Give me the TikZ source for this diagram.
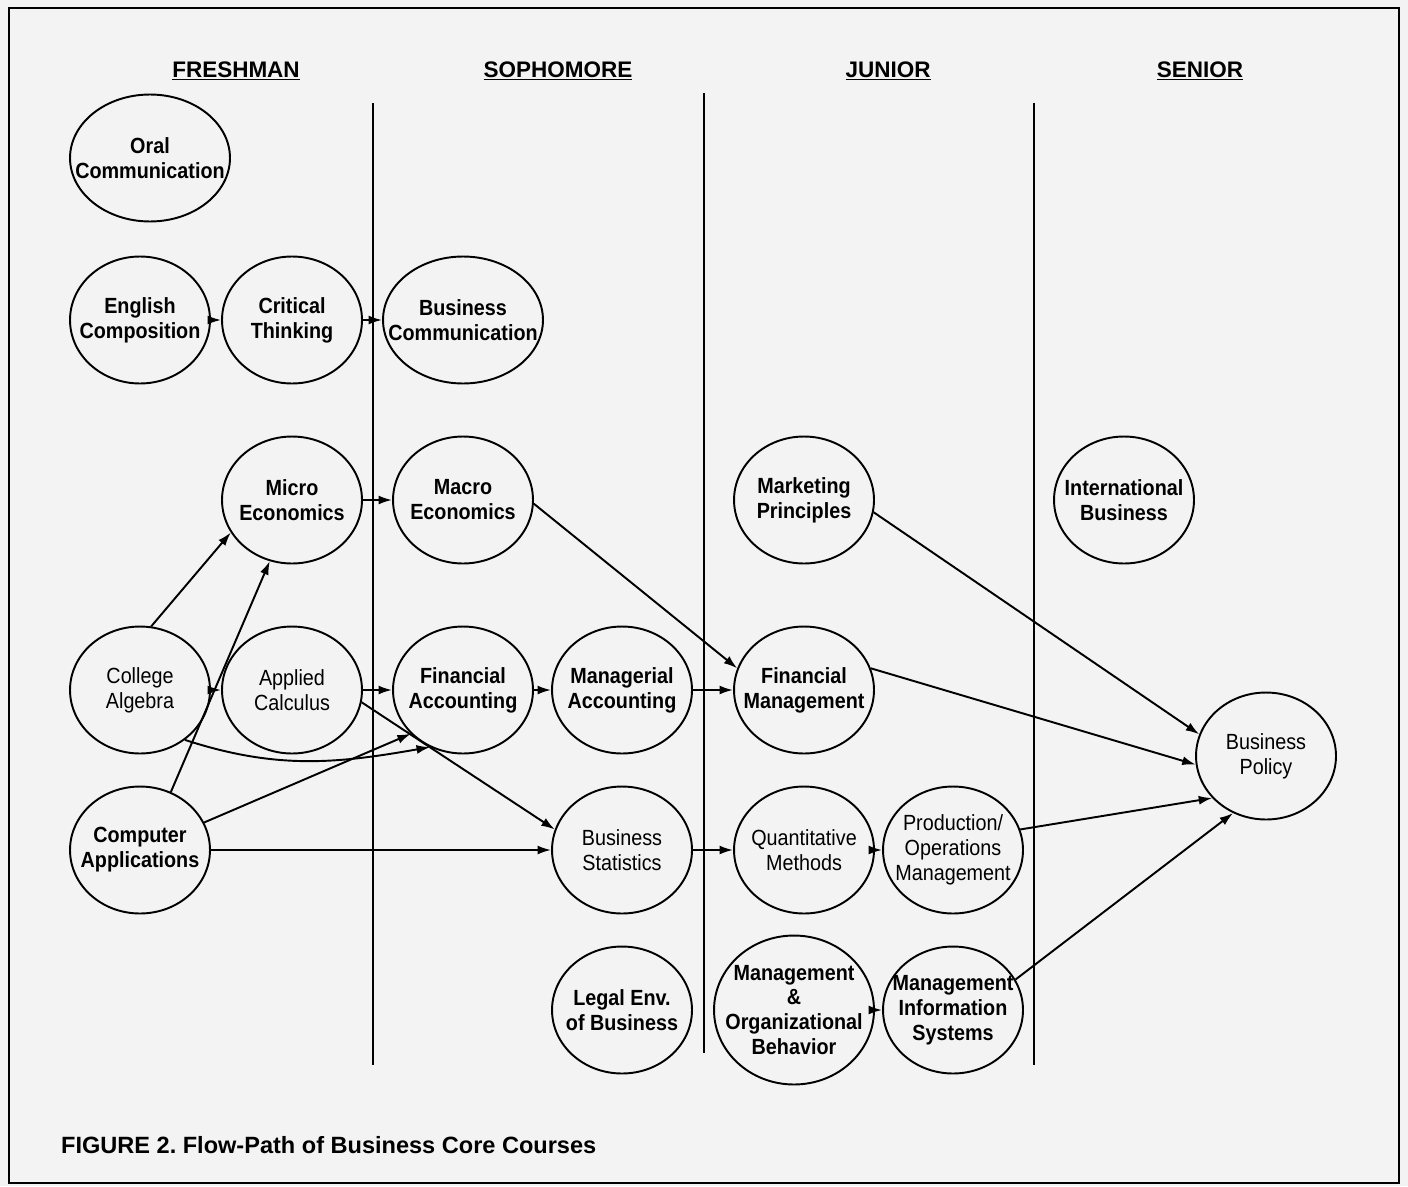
\documentclass[tikz,border=0pt]{standalone}
\usepackage{fontspec}
\setmainfont{Liberation Sans}
\newfontfamily\coursefont[FakeStretch=0.9]{Liberation Sans}
\usetikzlibrary{arrows.meta, positioning, shapes.geometric}
\usepackage{xcolor}
\definecolor{paper}{RGB}{243,243,243}
\frenchspacing

\begin{document}
\begin{tikzpicture}[x=0.02cm, y=-0.02cm,
    course/.style={draw, ellipse, line width=1.1pt, align=center, inner xsep=-0.6cm, inner ysep=0pt,
      minimum width=2.8cm, minimum height=2.54cm, font=\coursefont\fontsize{12.5}{14.2}\selectfont\bfseries},
    wide/.style={minimum width=3.2cm},
    light/.style={font=\coursefont\fontsize{12.5}{14.2}\selectfont},
    year/.style={anchor=base, font=\fontsize{12.8}{15}\selectfont\bfseries},
    divider/.style={line width=1.1pt},
    flow/.style={draw, line width=1.1pt, -{Latex[length=2.7mm, width=1.8mm]}}]
    \useasboundingbox (0,0) rectangle (1408,1186);
    \path[fill=paper] (0,0) rectangle (1408,1186);
    \draw[line width=1.4pt] (9,8) rectangle (1399,1183);

    \node[year] (fresh) at (236,77) {\underline{FRESHMAN}};
    \node[year] (soph) at (558,77) {\underline{SOPHOMORE}};
    \node[year] (junior) at (888,77) {\underline{JUNIOR}};
    \node[year] (senior) at (1200,77) {\underline{SENIOR}};

    \draw[divider] (373,103) -- (373,1065);
    \draw[divider] (704,93) -- (704,1053);
    \draw[divider] (1034,103) -- (1034,1065);

    \node[course, wide] (oral) at (150,158) {Oral\\Communication};
    \node[course] (engl) at (140,320) {English\\Composition};
    \node[course] (crit) at (292,320) {Critical\\Thinking};
    \node[course, wide] (bcomm) at (463,320) {Business\\Communication};
    \node[course] (micro) at (292,500) {Micro\\Economics};
    \node[course] (macro) at (463,500) {Macro\\Economics};
    \node[course] (mkt) at (804,500) {Marketing\\Principles};
    \node[course] (intl) at (1124,500) {International\\Business};
    \node[course, light] (alg) at (140,690) {College\\Algebra};
    \node[course, light] (calc) at (292,690) {Applied\\Calculus};
    \node[course] (finacc) at (463,690) {Financial\\Accounting};
    \node[course] (mgracc) at (622,690) {Managerial\\Accounting};
    \node[course] (finmgt) at (804,690) {Financial\\Management};
    \node[course, light] (policy) at (1266,756) {Business\\Policy};
    \node[course] (comp) at (140,850) {Computer\\Applications};
    \node[course, light] (stat) at (622,850) {Business\\Statistics};
    \node[course, light] (quant) at (804,850) {Quantitative\\Methods};
    \node[course, light] (prod) at (953,850) {Production/\\Operations\\Management};
    \node[course] (legal) at (622,1010) {Legal Env.\\of Business};
    \node[course, wide, minimum height=2.98cm] (mob) at (794,1010) {Management\\\&\\Organizational\\Behavior};
    \node[course] (mis) at (953,1010) {Management\\Information\\Systems};

    \path[flow] (engl) -- (crit);
    \path[flow] (crit) -- (bcomm);
    \path[flow] (micro) -- (macro);
    \path[flow] (alg.80) -- (micro.208);
    \path[flow] (comp.62) -- (micro.250);
    \path[flow] (alg) -- (calc);
    \path[flow] (alg.312) to[out=-18, in=190] (finacc.240);
    \path[flow] (calc) -- (finacc);
    \path[flow] (calc.350) -- (stat.163);
    \path[flow] (comp) -- (finacc.220);
    \path[flow] (comp) -- (stat);
    \path[flow] (finacc) -- (mgracc);
    \path[flow] (mgracc) -- (finmgt);
    \path[flow] (macro.357) -- (finmgt.162);
    \path[flow] (stat) -- (quant);
    \path[flow] (quant) -- (prod);
    \path[flow] (mob) -- (mis);
    \path[flow] (mkt.350) -- (policy.162);
    \path[flow] (finmgt.18) -- (policy.187);
    \path[flow] (prod.17) -- (policy.218);
    \path[flow] (mis.26) -- (policy.240);

    \node[anchor=base west, font=\fontsize{13.4}{15}\selectfont\bfseries] (caption) at (55,1153) {FIGURE 2. Flow-Path of Business Core Courses};
\end{tikzpicture}
\end{document}
